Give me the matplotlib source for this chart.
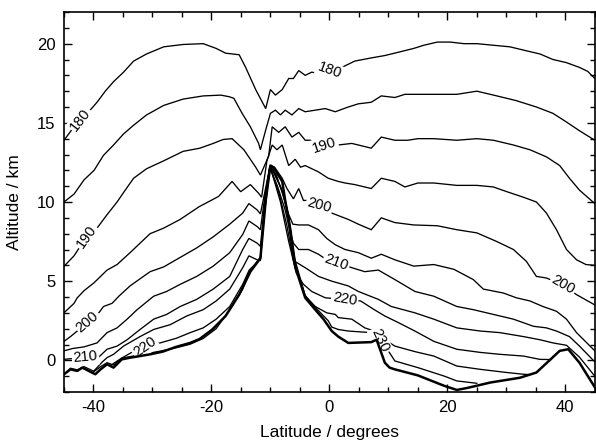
import numpy as np
import matplotlib
matplotlib.use("Agg")
import matplotlib.pyplot as plt

plt.rcParams['font.family'] = ['Liberation Sans', 'DejaVu Sans']
plt.rcParams['axes.unicode_minus'] = False

# ---- contour lines (latitude deg, altitude km) ----
c180 = [(-45, 13.9), (-43.8, 14.5), (-42.2, 15.2), (-40.8, 15.7), (-39.4, 16.3), (-38.0, 17.0),
        (-36.6, 17.6), (-34.9, 18.2), (-33.2, 18.9), (-31.0, 19.35), (-28.1, 19.8), (-24.8, 19.95),
        (-21.4, 20.0), (-19.2, 19.7), (-17.6, 19.4), (-15.3, 19.3), (-14.2, 18.5), (-12.5, 17.1),
        (-10.8, 15.9), (-10.0, 17.1), (-9.15, 16.75), (-8.0, 17.1), (-6.9, 17.8), (-6.1, 17.8),
        (-5.2, 18.3), (-4.1, 18.0), (-3.0, 18.2), (-2.2, 18.15), (0.0, 18.3), (2.1, 18.5),
        (4.3, 18.9), (7.1, 19.1), (9.4, 19.25), (11.6, 19.45), (14.3, 19.7), (16.0, 19.9),
        (18.3, 20.1), (20.5, 20.1), (22.8, 20.0), (25.0, 20.0), (27.8, 19.9), (30.6, 19.8),
        (33.4, 19.55), (35.7, 19.35), (37.9, 19.0), (40.2, 18.8), (42.4, 18.5), (43.8, 18.25),
        (45.0, 17.8)]
c185 = [(-45, 10.0), (-43.3, 10.5), (-41.6, 11.4), (-39.9, 12.0), (-38.3, 12.95), (-36.6, 13.6),
        (-34.9, 14.3), (-33.2, 14.85), (-31.0, 15.5), (-28.1, 16.1), (-24.8, 16.5), (-21.4, 16.7),
        (-18.4, 16.75), (-17.0, 16.65), (-16.2, 16.55), (-14.8, 15.6), (-13.4, 14.75), (-12.0, 13.7),
        (-11.7, 13.3), (-10.8, 14.55), (-10.0, 15.6), (-9.15, 15.8), (-8.3, 15.5), (-7.5, 15.8),
        (-6.35, 15.5), (-5.2, 15.9), (-4.1, 15.7), (-2.4, 15.8), (-0.7, 15.9), (1.0, 15.7),
        (3.2, 16.0), (4.9, 16.2), (7.1, 16.3), (8.8, 16.7), (11.1, 16.6), (12.8, 16.8),
        (15.0, 16.8), (17.7, 16.8), (21.6, 16.8), (25.0, 17.0), (28.4, 16.7), (31.7, 16.4),
        (35.1, 16.0), (37.9, 15.6), (40.2, 15.05), (42.4, 14.5), (45.0, 13.9)]
c190 = [(-45, 5.94), (-43.3, 6.6), (-41.2, 7.8), (-39.4, 8.35), (-37.7, 9.2), (-36.0, 10.0),
        (-34.9, 10.6), (-33.2, 11.5), (-31.0, 12.1), (-28.1, 12.6), (-24.8, 13.2), (-21.95, 13.4),
        (-19.7, 13.7), (-18.0, 13.95), (-16.5, 14.0), (-14.5, 13.3), (-12.5, 12.2), (-11.7, 11.7),
        (-10.3, 12.9), (-9.7, 14.75), (-8.6, 14.4), (-7.5, 14.75), (-6.35, 14.1), (-5.2, 14.4),
        (-4.1, 13.9), (-3.25, 13.9), (-0.85, 13.6), (1.5, 13.6), (3.8, 13.7), (4.9, 13.6),
        (7.1, 13.4), (8.8, 14.1), (11.1, 13.9), (13.3, 13.9), (15.0, 14.0), (17.7, 14.0),
        (21.6, 13.9), (25.0, 14.0), (27.8, 13.9), (31.2, 13.6), (34.0, 13.3), (36.8, 12.85),
        (39.05, 12.3), (40.7, 11.5), (42.4, 10.75), (45.0, 9.9)]
c195 = [(-45, 3.0), (-43.3, 3.6), (-42.75, 3.95), (-41.6, 4.4), (-39.9, 4.9), (-37.7, 5.7),
        (-36.0, 6.05), (-33.8, 6.8), (-30.4, 8.0), (-28.1, 8.35), (-25.3, 8.9), (-22.1, 9.7),
        (-18.8, 10.35), (-16.5, 11.3), (-15.05, 10.65), (-13.4, 11.1), (-12.0, 10.55), (-11.5, 10.3),
        (-10.6, 12.6), (-9.7, 13.6), (-8.9, 13.3), (-8.0, 13.6), (-6.9, 12.3), (-5.8, 12.7),
        (-4.9, 12.2), (-4.1, 12.3), (-1.85, 11.9), (-0.2, 11.5), (1.5, 11.3), (2.65, 11.2),
        (4.3, 11.1), (7.1, 10.85), (8.8, 11.5), (11.1, 11.3), (12.8, 10.95), (15.0, 11.2),
        (17.7, 11.2), (21.6, 11.05), (25.0, 11.05), (27.8, 10.95), (30.1, 10.65), (32.9, 10.3),
        (35.1, 10.0), (36.8, 9.3), (38.5, 8.25), (40.2, 7.0), (41.9, 6.35), (43.5, 6.05), (45.0, 6.0)]
c200 = [(-45, 1.2), (-43.9, 1.5), (-42.75, 1.85), (-41.0, 2.45), (-39.1, 3.0), (-38.3, 3.4),
        (-36.85, 3.6), (-35.7, 4.05), (-33.8, 4.7), (-30.4, 5.6), (-28.1, 5.9), (-25.3, 6.5),
        (-22.5, 7.1), (-19.7, 7.8), (-16.9, 8.6), (-14.7, 9.3), (-13.65, 9.9), (-12.25, 9.5),
        (-11.7, 9.25), (-10.8, 10.9), (-10.1, 12.25), (-9.3, 12.2), (-8.0, 11.5), (-7.2, 10.85),
        (-6.1, 10.2), (-5.2, 10.85), (-4.4, 10.1), (-3.5, 10.1), (-1.7, 9.8), (0.4, 9.3),
        (3.2, 8.9), (4.9, 8.6), (7.1, 8.25), (8.8, 9.0), (11.1, 8.7), (14.3, 8.55), (18.3, 8.5),
        (21.6, 8.25), (25.0, 8.05), (28.4, 7.5), (31.2, 7.0), (33.4, 6.25), (35.1, 5.3),
        (36.8, 5.2), (39.6, 4.75), (41.9, 4.15), (45.0, 3.5)]
c205 = [(-45, 0.6), (-43.5, 0.75), (-41.6, 0.85), (-39.4, 1.1), (-37.7, 1.75), (-36.0, 2.05),
        (-34.3, 2.6), (-32.6, 3.2), (-29.8, 4.05), (-27.6, 4.35), (-25.3, 4.8), (-22.5, 5.3),
        (-19.7, 5.95), (-16.9, 6.8), (-14.7, 7.95), (-13.65, 8.8), (-12.25, 8.45), (-11.7, 8.25),
        (-10.9, 10.5), (-10.1, 12.2), (-9.0, 11.7), (-8.0, 10.6), (-7.0, 9.3), (-6.2, 8.6),
        (-5.2, 8.55), (-3.55, 8.55), (-1.85, 8.25), (-0.45, 7.7), (1.0, 7.3), (2.65, 7.0),
        (4.9, 6.8), (7.1, 6.45), (8.8, 6.7), (11.1, 6.35), (14.3, 5.95), (17.7, 6.05),
        (21.1, 5.75), (24.4, 5.1), (26.1, 4.5), (29.5, 4.25), (31.7, 3.95), (34.0, 3.75),
        (36.2, 3.4), (38.5, 3.1), (40.2, 2.6), (41.9, 1.75), (45.0, 0.6)]
c210 = [(-45, 0.06), (-41.35, 0.2), (-39.4, 0.1), (-37.7, 0.7), (-36.0, 0.9), (-34.3, 1.3),
        (-32.1, 1.95), (-29.8, 2.6), (-27.6, 2.9), (-25.3, 3.4), (-22.5, 3.85), (-19.7, 4.5),
        (-16.9, 5.3), (-14.7, 7.0), (-13.65, 7.7), (-12.25, 7.4), (-11.7, 7.2), (-10.95, 10.0),
        (-10.1, 12.2), (-8.8, 11.0), (-7.5, 9.5), (-6.6, 8.0), (-6.1, 7.4), (-5.2, 7.0),
        (-3.55, 7.0), (-1.85, 6.7), (-0.45, 6.35), (1.2, 6.2), (3.8, 5.85), (6.0, 5.6),
        (8.3, 5.7), (11.1, 5.1), (14.5, 4.35), (17.7, 4.05), (21.6, 3.4), (24.4, 3.2),
        (27.8, 2.9), (31.2, 2.6), (34.6, 2.15), (36.8, 2.05), (38.5, 1.85), (40.7, 1.5),
        (42.4, 0.9), (45.0, -0.1)]
c215 = [(-40.0, -0.7), (-38.5, -0.1), (-37.7, 0.17), (-36.6, 0.38), (-34.9, 0.9), (-32.1, 1.5),
        (-29.8, 1.95), (-27.0, 2.25), (-24.2, 2.8), (-21.4, 3.2), (-19.2, 3.75), (-16.9, 4.5),
        (-14.7, 5.85), (-13.65, 6.6), (-12.25, 6.35), (-11.7, 6.3), (-11.0, 9.5), (-10.1, 12.2),
        (-8.5, 10.5), (-7.2, 8.5), (-6.1, 6.3), (-4.1, 5.85), (-1.85, 5.3), (0.4, 5.0),
        (3.2, 4.7), (4.9, 4.35), (8.3, 3.85), (10.5, 3.4), (14.5, 3.0), (17.7, 2.6), (21.6, 2.05),
        (25.6, 1.85), (28.9, 1.75), (32.9, 1.5), (35.7, 1.3), (37.9, 1.1), (40.2, 0.95),
        (42.4, 0.2), (45.0, -1.0)]
c220 = [(-37.0, -0.3), (-35.4, 0.1), (-33.3, 0.55), (-31.3, 0.85), (-28.7, 1.1), (-25.9, 1.4),
        (-23.6, 1.75), (-21.4, 2.05), (-19.2, 2.6), (-16.9, 3.4), (-14.7, 4.8), (-13.6, 5.7),
        (-12.5, 6.1), (-11.7, 6.5), (-11.0, 9.3), (-10.05, 12.25), (-8.3, 10.0), (-6.9, 7.5),
        (-5.6, 5.5), (-4.4, 4.8), (-3.0, 4.35), (-0.7, 3.95), (2.6, 3.85), (5.3, 3.75),
        (7.6, 3.2), (9.4, 2.8), (11.6, 2.4), (14.5, 1.85), (17.7, 1.2), (21.6, 0.7), (25.6, 0.5),
        (28.9, 0.38), (32.9, 0.27), (35.7, 0.06), (37.5, 0.05)]
c225 = [(-44.5, -0.72), (-43.9, -0.5), (-42.75, -0.6), (-41.6, -0.4), (-39.9, -0.7), (-38.8, -0.4),
        (-37.7, -0.15), (-36.6, -0.3), (-35.2, 0.14), (-32.1, 0.35), (-28.7, 0.58), (-25.9, 0.8),
        (-23.6, 1.02), (-21.4, 1.38), (-19.2, 2.0), (-16.9, 3.2), (-14.7, 4.5), (-13.5, 5.65),
        (-11.7, 6.5), (-10.9, 10.0), (-10.05, 12.3), (-8.2, 10.9), (-7.2, 9.6), (-6.5, 8.2),
        (-5.8, 6.3), (-4.1, 4.05), (-2.4, 3.4), (-0.45, 3.0), (1.0, 2.9), (1.5, 2.7), (3.8, 2.6),
        (6.0, 2.05), (7.6, 1.85), (9.4, 1.3), (11.1, 0.9), (14.5, 0.55), (17.7, 0.27),
        (21.6, -0.36), (25.6, -0.57), (30.1, -0.77), (32.9, -0.88), (34.0, -0.9)]
c230 = [(-9.8, 12.3), (-7.6, 10.3), (-6.9, 9.0), (-6.3, 7.3), (-5.7, 6.0), (-4.1, 4.1),
        (-2.4, 3.35), (-0.2, 2.5), (0.4, 2.1), (1.5, 1.95), (3.2, 1.85), (7.1, 1.75),
        (8.6, 1.25), (10.2, 0.48), (11.1, -0.04), (15.0, -0.46), (19.5, -1.0), (21.6, -1.3),
        (25.0, -1.45)]
terrain = [(-45, -0.88), (-43.9, -0.57), (-42.75, -0.67), (-41.9, -0.46), (-40.8, -0.67),
           (-39.7, -0.88), (-38.8, -0.57), (-37.7, -0.25), (-36.6, -0.46), (-35.2, 0.06),
           (-33.75, 0.17), (-32.1, 0.27), (-30.4, 0.38), (-28.25, 0.55), (-26.0, 0.85),
           (-23.6, 1.1), (-22.0, 1.35), (-19.85, 1.95), (-17.6, 2.8), (-15.3, 4.15), (-13.4, 5.6),
           (-11.7, 6.45), (-10.8, 10.1), (-10.0, 12.3), (-9.5, 12.2), (-8.0, 11.3), (-7.5, 10.1),
           (-6.9, 8.9), (-6.35, 7.2), (-5.8, 5.9), (-4.1, 3.95), (-2.4, 3.2), (-1.0, 2.6),
           (0.4, 1.85), (1.5, 1.5), (3.2, 1.1), (7.1, 1.15), (8.0, 1.3), (9.4, -0.15),
           (10.2, -0.46), (11.1, -0.57), (15.0, -0.95), (19.4, -1.6), (21.6, -1.87),
           (23.3, -1.75), (27.3, -1.4), (32.3, -1.1), (35.1, -0.77), (39.05, 0.6), (40.5, 0.7),
           (42.4, -0.15), (45.0, -1.7)]

contour_levels = [180, 185, 190, 195, 200, 205, 210, 215, 220, 225, 230]
contour_lines = [c180, c185, c190, c195, c200, c205, c210, c215, c220, c225, c230]

# inline labels: level, latitude of label, text rotation
label_levels = [180, 180, 190, 190, 200, 200, 200, 210, 210, 220, 220, 230]
label_lats = [-42.2, 0.0, -41.2, -0.85, -41.0, -1.7, 39.6, -41.35, 1.2, -31.3, 2.6, 8.6]
label_rots = [52, -20, 55, 18, 40, -15, -30, 5, -20, 35, -10, -65]

fig = plt.figure(figsize=(5.96, 4.45), dpi=100)
ax = fig.add_axes([64 / 596, 1 - 392 / 445, 1 - 64 / 596 - 0.002, (392 - 12) / 445])

for lvl, pts in zip(contour_levels, contour_lines):
    arr = np.array(pts)
    ax.plot(arr[:, 0], arr[:, 1], color='black', lw=0.95, solid_joinstyle='miter', zorder=2)

t = np.array(terrain)
ax.plot(t[:, 0], t[:, 1], color='black', lw=1.8, zorder=5)

for lvl, lat, rot in zip(label_levels, label_lats, label_rots):
    arr = np.array(contour_lines[contour_levels.index(lvl)])
    alt = np.interp(lat, arr[:, 0], arr[:, 1])
    ax.text(lat, alt, str(lvl), fontsize=10.5, rotation=rot, rotation_mode='anchor',
            ha='center', va='center', zorder=4,
            bbox=dict(boxstyle='square,pad=0.1', fc='white', ec='none'))

ax.set_xlim(-45, 45)
ax.set_ylim(-2, 22)
ax.set_xticks([-40, -20, 0, 20, 40])
ax.set_xticks(np.arange(-45, 46, 5), minor=True)
ax.set_yticks([0, 5, 10, 15, 20])
ax.set_yticks(np.arange(-2, 23, 1), minor=True)
ax.tick_params(which='both', direction='in', top=True, right=True, width=1.0, labelsize=12)
ax.tick_params(which='major', length=5.5, pad=6)
ax.tick_params(which='minor', length=3.5)
for s in ax.spines.values():
    s.set_linewidth(1.2)
ax.set_xlabel('Latitude / degrees', fontsize=12.5, labelpad=7)
ax.set_ylabel('Altitude / km', fontsize=12.5, labelpad=11)

fig.savefig('out.png', dpi=100)
